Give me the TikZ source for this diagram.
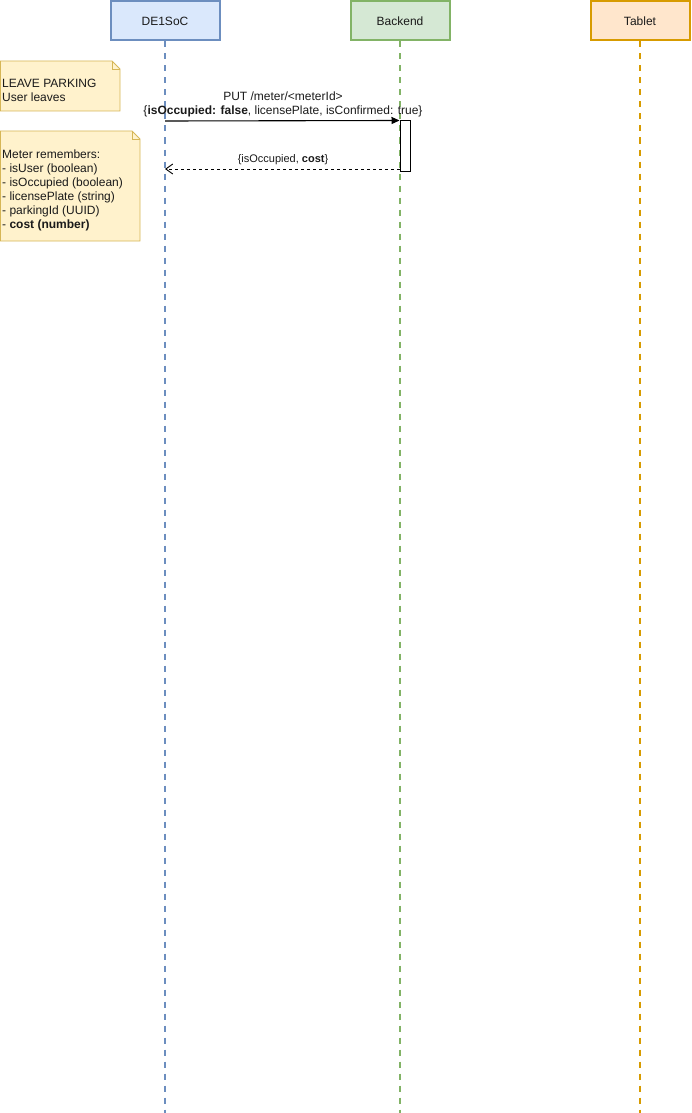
\documentclass[tikz,border=0pt]{standalone}
\usepackage{fontspec}
\setmainfont{Liberation Sans}
\usetikzlibrary{arrows.meta,shapes.misc}
\definecolor{bfill}{HTML}{DAE8FC}\definecolor{bline}{HTML}{6C8EBF}
\definecolor{gfill}{HTML}{D5E8D4}\definecolor{gline}{HTML}{82B366}
\definecolor{ofill}{HTML}{FFE6CC}\definecolor{oline}{HTML}{D79B00}
\definecolor{nfill}{HTML}{FFF2CC}\definecolor{nline}{HTML}{D6B656}
\definecolor{txt}{HTML}{1A1A1A}
\tikzset{
  actor/.style={draw, line width=2pt, minimum width=109pt, minimum height=39pt, inner sep=0pt, font=\fontsize{12}{14}\selectfont, text=txt},
  lifeline/.style={dash pattern=on 6pt off 6pt, line width=1.6pt},
  notetext/.style={anchor=north west, align=left, inner sep=0pt, font=\fontsize{12}{14}\selectfont, text=txt},
  msglabel/.style={align=center, inner sep=0pt, font=\fontsize{12}{14}\selectfont, text=txt},
}
\begin{document}
\begin{tikzpicture}[x=1pt,y=-1pt]
\useasboundingbox (0,0) rectangle (692,1113);
% actors
\node[actor, fill=bfill, draw=bline, minimum width=109pt] (de) at (165,21) {DE1SoC};
\node[actor, fill=gfill, draw=gline, minimum width=99pt] (be) at (400,21) {Backend};
\node[actor, fill=ofill, draw=oline, minimum width=99pt] (tab) at (640,21) {Tablet};
% lifelines
\coordinate (deE) at (165,1113);
\coordinate (beE) at (400,1113);
\coordinate (tabE) at (640,1113);
\draw[lifeline, draw=bline] (de.south) -- (deE);
\draw[lifeline, draw=gline] (be.south) -- (beE);
\draw[lifeline, draw=oline] (tab.south) -- (tabE);
% notes
\draw[fill=nfill, draw=nline, line width=0.9pt] (0.5,61) -- (112,61) -- (120,69) -- (120,111) -- (0.5,111) -- cycle;
\draw[draw=nline, line width=0.9pt] (112,61) -- (112,69) -- (120,69);
\node[notetext] (n1) at (2,79) {LEAVE PARKING\\User leaves};
\draw[fill=nfill, draw=nline, line width=0.9pt] (0.5,131) -- (132,131) -- (140,139) -- (140,241) -- (0.5,241) -- cycle;
\draw[draw=nline, line width=0.9pt] (132,131) -- (132,139) -- (140,139);
\node[notetext] (n2) at (2,150) {Meter remembers:\\- isUser (boolean)\\- isOccupied (boolean)\\- licensePlate (string)\\- parkingId (UUID)\\- \textbf{cost (number)}};
% activation
\node[draw, fill=white, line width=1pt, minimum width=10pt, minimum height=50pt, inner sep=0pt] (act) at (405,146) {};
% messages
\coordinate (m1s) at (165,121);
\draw[line width=1.1pt, -{Triangle[length=8pt,width=7pt]}] (m1s) -- (act.north west);
\node[msglabel] (l1) at (283,104) {PUT /meter/<meterId>\\\{\textbf{isOccupied: false}, licensePlate, isConfirmed: true\}};
\coordinate (m2e) at (165,169);
\draw[line width=0.9pt, dash pattern=on 3pt off 3pt, -{Straight Barb[length=7pt,width=10pt]}] (act.south west |- m2e) -- (m2e);
\node[msglabel, font=\fontsize{11}{13}\selectfont] (l2) at (283,160) {\{isOccupied, \textbf{cost}\}};
\end{tikzpicture}
\end{document}
